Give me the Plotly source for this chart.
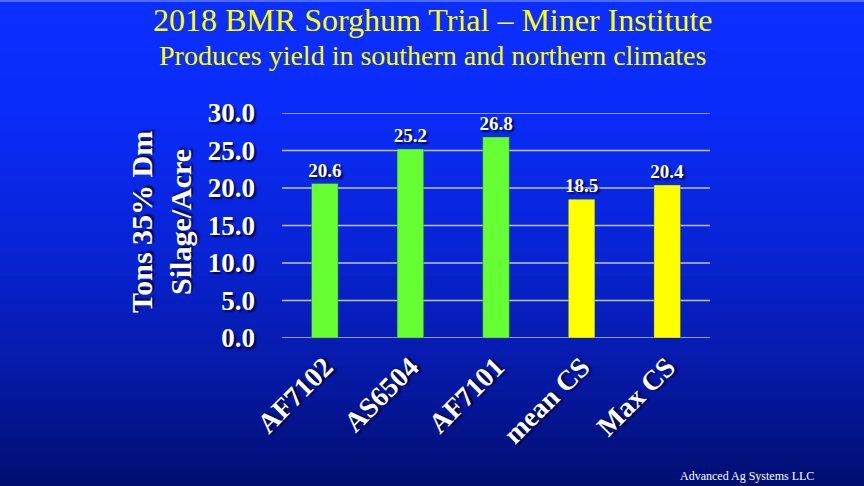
import plotly.graph_objects as go

# chart data
varieties = ["AF7102", "AS6504", "AF7101", "mean CS", "Max CS"]
yields = [20.6, 25.2, 26.8, 18.5, 20.4]
bar_colors = ["#66ff33", "#66ff33", "#66ff33", "#ffff00", "#ffff00"]
y_ticks = [0, 5, 10, 15, 20, 25, 30]
y_tick_labels = ["0.0", "5.0", "10.0", "15.0", "20.0", "25.0", "30.0"]

title_1 = "2018 BMR Sorghum Trial \u2013 Miner Institute"
title_2 = "Produces yield in southern and northern climates"
y_title = "Tons 35% Dm<br>Silage/Acre"
footer = "Advanced Ag Systems LLC"

W, H = 864, 486
L, R, T, B = 282, 154, 113, 148
pw, ph = W - L - R, H - T - B

SERIF = "Liberation Serif, Times New Roman, serif"
SHADOW = "2px 2px 2px rgba(0,0,40,0.85)"


def px_x(px):
    return (px - L) / pw


def px_y(py):
    return (H - B - py) / ph


# blue gradient background built from thin bands
stops = [(0.0, (12, 46, 255)), (0.22, (10, 44, 250)), (0.5, (8, 36, 215)),
         (0.75, (6, 26, 170)), (1.0, (0, 14, 112))]


def grad(t):
    for (t0, c0), (t1, c1) in zip(stops[:-1], stops[1:]):
        if t <= t1:
            f = (t - t0) / (t1 - t0)
            return "rgb(%d,%d,%d)" % tuple(round(a + (b - a) * f) for a, b in zip(c0, c1))
    return "rgb(%d,%d,%d)" % stops[-1][1]


shapes = []
n = 81
for i in range(n):
    y0 = H * i / n
    y1 = H * (i + 1) / n + 1
    shapes.append(dict(type="rect", xref="paper", yref="paper", layer="below",
                       x0=px_x(-2), x1=px_x(W + 2), y0=px_y(y1), y1=px_y(y0),
                       line=dict(width=0), fillcolor=grad((i + 0.5) / n)))
# thin light line at the very top
shapes.append(dict(type="rect", xref="paper", yref="paper", layer="below",
                   x0=px_x(-2), x1=px_x(W + 2), y0=px_y(2), y1=px_y(0),
                   line=dict(width=0), fillcolor="#4a6cff"))
# gridlines (incl. the 0 and 30 edges, which plotly would skip)
for v in y_ticks:
    shapes.append(dict(type="line", xref="paper", yref="y", layer="below",
                       x0=0, x1=1, y0=v, y1=v,
                       line=dict(color="rgba(220,225,255,0.85)", width=1.3)))

fig = go.Figure(go.Bar(
    x=varieties, y=yields,
    marker=dict(color=bar_colors, line=dict(color="rgba(40,80,20,0.6)", width=0.6)),
    width=0.31,
    text=["%.1f" % v for v in yields], textposition="outside", constraintext="none",
    textfont=dict(family=SERIF, size=19, color="white", weight="bold", shadow=SHADOW),
    cliponaxis=False,
))


def note(text, x, y, size, color, bold=False, angle=0, shadow="none"):
    return dict(text=text, xref="paper", yref="paper", x=px_x(x), y=px_y(y),
                xanchor="center", yanchor="middle", showarrow=False, textangle=angle,
                font=dict(family=SERIF, size=size, color=color,
                          weight="bold" if bold else "normal", shadow=shadow))


fig.update_layout(
    width=W, height=H,
    margin=dict(l=L, r=R, t=T, b=B),
    paper_bgcolor="#0a1a90", plot_bgcolor="rgba(0,0,0,0)",
    showlegend=False,
    shapes=shapes,
    annotations=[
        note(title_1, 432, 20, 32, "#ffff00"),
        note(title_2, 432, 56, 28, "#ffff00"),
        note(y_title, 161, 222, 30, "white", bold=True, angle=-90, shadow=SHADOW),
        note(footer, 747, 476, 12, "white"),
    ],
)

fig.update_yaxes(
    range=[0, 30], tickvals=y_ticks, ticktext=y_tick_labels,
    showgrid=False, zeroline=False, showline=False, ticks="", ticklabelstandoff=26,
    tickfont=dict(family=SERIF, size=27, color="white", weight="bold", shadow=SHADOW),
)
fig.update_xaxes(
    showline=False, showgrid=False, zeroline=False, ticks="",
    tickangle=-45, ticklabelstandoff=6,
    tickfont=dict(family=SERIF, size=28, color="white", weight="bold", shadow=SHADOW),
)

fig.write_html("out.html", config={"displayModeBar": False},
               post_script="document.body.style.margin='0';")
